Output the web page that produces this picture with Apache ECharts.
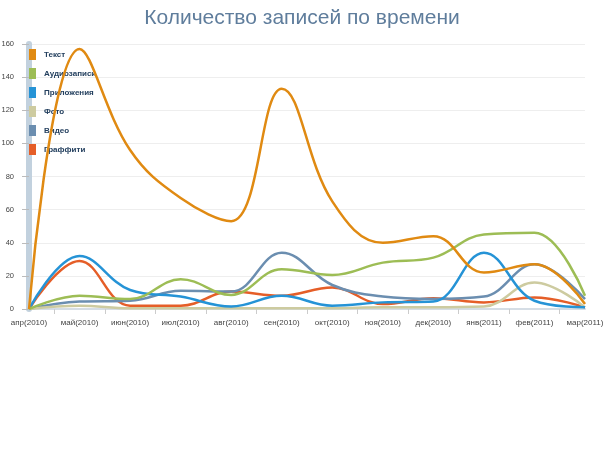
<!DOCTYPE html>
<html>
<head>
<meta charset="utf-8">
<script src="https://cdn.jsdelivr.net/npm/echarts@6/dist/echarts.min.js"></script>
<style>html,body{margin:0;padding:0;background:#fff}#c{width:604px;height:453px}</style>
</head>
<body>
<div id="c"></div>
<script>
var months = ['апр(2010)','май(2010)','июн(2010)','июл(2010)','авг(2010)','сен(2010)','окт(2010)','ноя(2010)','дек(2010)','янв(2011)','фев(2011)','мар(2011)'];
var text      = [0, 157, 96, 67, 53, 133, 65, 40, 44, 22, 27, 3];
var audio     = [0, 8, 6, 18, 8.5, 24, 20.5, 28, 31, 45, 46, 8];
var apps      = [0, 32, 11.5, 7.5, 1.5, 8, 2, 4, 4.5, 34, 5, 1];
var photo     = [0, 2, 0.5, 0.5, 0.5, 0.5, 0.5, 1, 1, 1.5, 16, 1];
var video     = [0, 4.5, 5, 11, 10.5, 34, 14.5, 7.5, 6, 7.5, 27, 6];
var graffiti  = [0, 29, 2, 2, 10.5, 8, 13, 3, 6.5, 4, 7, 1];
var seriesNames = ['Текст','Аудиозаписи','Приложения','Фото','Видео','Граффити'];
var seriesData = [text, audio, apps, photo, video, graffiti];
var colors = ['#e08a12','#9dbd55','#2593d6','#cdcba0','#6b8eb0','#e55e28'];
var yTicks = {min: 0, max: 160, interval: 20};

var chart = echarts.init(document.getElementById('c'), null, {renderer: 'canvas'});
chart.setOption({
  animation: false,
  color: colors,
  title: {
    text: 'Количество записей по времени',
    left: 'center', top: 3,
    textStyle: {fontFamily: 'Liberation Sans', fontSize: 21, fontWeight: 'normal', color: '#5f7d9c'}
  },
  legend: {
    orient: 'vertical', left: 24, top: 44,
    icon: 'rect', itemWidth: 7, itemHeight: 11, itemGap: 8,
    textStyle: {fontFamily: 'Liberation Sans', fontSize: 8, fontWeight: 'bold', color: '#24405f', padding: [0, 0, 0, 3]},
    data: seriesNames
  },
  grid: {left: 29, right: 19, top: 44, bottom: 144, containLabel: false, outerBoundsMode: 'none'},
  xAxis: [{
    type: 'category', data: months, boundaryGap: false,
    axisLine: {lineStyle: {color: '#d5dde5', width: 2}},
    axisTick: {show: false},
    axisLabel: {fontFamily: 'Liberation Sans', fontSize: 8, color: '#444', margin: 10, interval: 0}
  }, {
    type: 'value', min: 0, max: months.length - 1, interval: 1,
    position: 'bottom',
    axisLine: {show: false}, axisTick: {show: false}, axisLabel: {show: false},
    splitLine: {show: false},
    minorTick: {show: true, splitNumber: 2, length: 5, lineStyle: {color: '#ccc'}},
    minorSplitLine: {show: false}
  }],
  yAxis: {
    type: 'value', min: yTicks.min, max: yTicks.max, interval: yTicks.interval,
    offset: 3,
    axisLine: {show: true, lineStyle: {color: '#c2d1de', width: 6}},
    axisTick: {show: true, length: 7, lineStyle: {color: '#bbb'}},
    axisLabel: {fontFamily: 'Liberation Sans', fontSize: 7.5, color: '#444', margin: 12},
    splitLine: {lineStyle: {color: '#eeeeee'}}
  },
  series: seriesData.map(function (d, i) {
    return {
      name: seriesNames[i], type: 'line', data: d,
      smooth: 0.4,
      showSymbol: false, symbol: 'none',
      lineStyle: {width: 2.5, color: colors[i]},
      z: 10 - i
    };
  })
});
</script>
</body>
</html>
